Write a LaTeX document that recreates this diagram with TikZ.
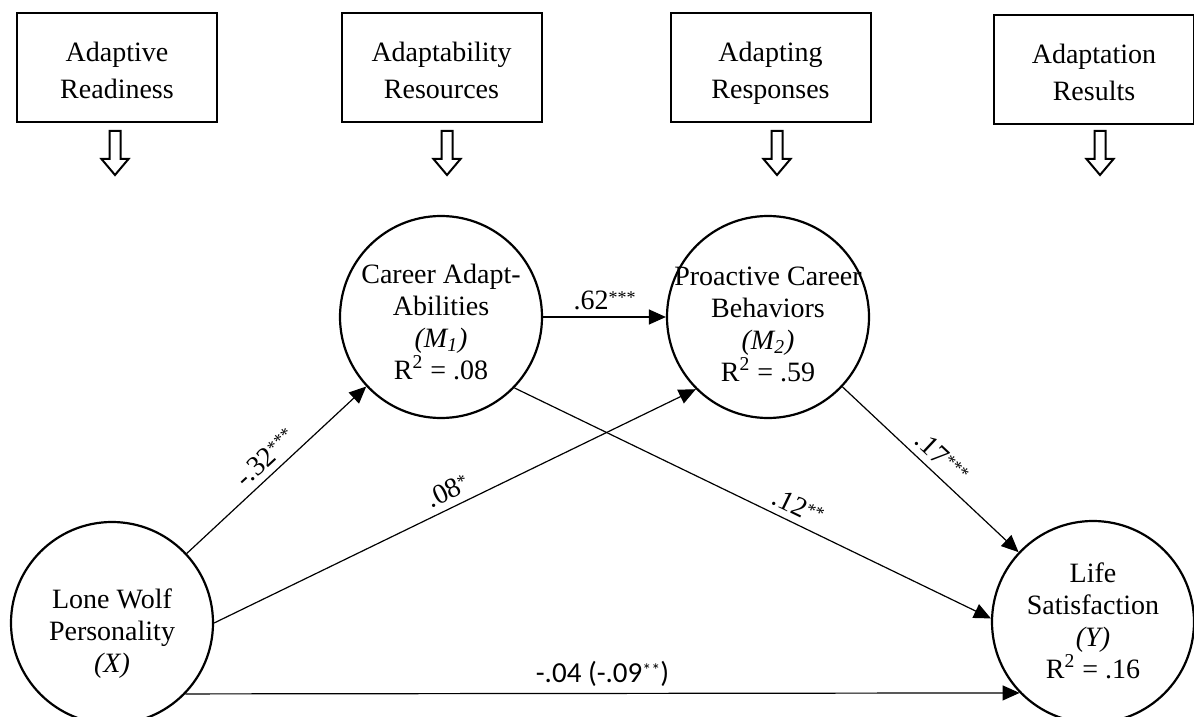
\documentclass[tikz,border=0pt]{standalone}
\usepackage{fontspec}
\setmainfont{Liberation Serif}
\newfontfamily\carlito{Carlito}
\usetikzlibrary{arrows.meta}

\newcommand\sig[1]{\raisebox{3pt}{\fontsize{9}{9}\selectfont#1}}

\begin{document}
\begin{tikzpicture}[x=0.5pt,y=-0.5pt]

      \useasboundingbox (0,0) rectangle (1194,717);

      % stage boxes
      \begin{scope}[every node/.style={draw,line width=1pt,minimum width=100pt,minimum height=54.5pt,align=center,
          text height=31.5pt,text depth=0pt,font=\fontsize{14}{18.5}\selectfont}]
        \node (ready)    at (117,67.5)   {Adaptive\\Readiness};
        \node (resource) at (441.5,67.5) {Adaptability\\Resources};
        \node (respond)  at (770.5,67.5) {Adapting\\Responses};
        \node (result)   at (1094,69.5)  {Adaptation\\Results};
      \end{scope}

      % hollow arrows under the boxes
      \foreach \x in {115,447,777,1100}
        \draw[line width=1pt] (\x-5.5,131) -- (\x+5.5,131) -- (\x+5.5,159) -- (\x+13.5,159)
          -- (\x,175) -- (\x-13.5,159) -- (\x-5.5,159) -- cycle;

      \begin{scope}[every node/.style={circle,draw,line width=1.1pt,minimum size=101pt,inner sep=-12pt,align=center,
          text depth=0pt,font=\fontsize{14}{16}\selectfont}]
        \node[text height=49pt] (X)  at (112,623)  {Lone Wolf\\Personality\\\textit{(X)}};
        \node[text height=62pt] (M1) at (441,317)  {Career Adapt-\\Abilities\\\textit{(M\textsubscript{1})}\\R\textsuperscript{2} = .08};
        \node[text height=64pt] (M2) at (768,317)  {Proactive Career\\Behaviors\\\textit{(M\textsubscript{2})}\\R\textsuperscript{2} = .59};
        \node[text height=56pt] (Y)  at (1093,622) {Life\\Satisfaction\\\textit{(Y)}\\R\textsuperscript{2} = .16};
      \end{scope}

      \begin{scope}[every node/.style={font=\fontsize{14}{16}\selectfont}]

        \begin{scope}[every edge/.style={draw,line width=0.6pt,-{Triangle[length=8.5pt,width=7.5pt]}}]
          \path (X)      edge node[sloped,above] {-.32\sig{***}} (M1);
          \path (X.east) edge node[sloped,above] {.08\sig{*}} (M2.225);
          \path (M1)     edge node[above] {.62\sig{***}} (M2);
          \path (M1.-44) edge node[pos=0.58,sloped,above] {.12\sig{**}} (Y.178);
          \path (M2)     edge node[sloped,above] {.17\sig{***}} (Y);
          \path (X.-44)  edge node[above,font=\carlito\fontsize{14.5}{16}\selectfont] {-.04 (-.09\sig{**})} (Y.224);
        \end{scope}
      \end{scope}

    \end{tikzpicture}
\end{document}
